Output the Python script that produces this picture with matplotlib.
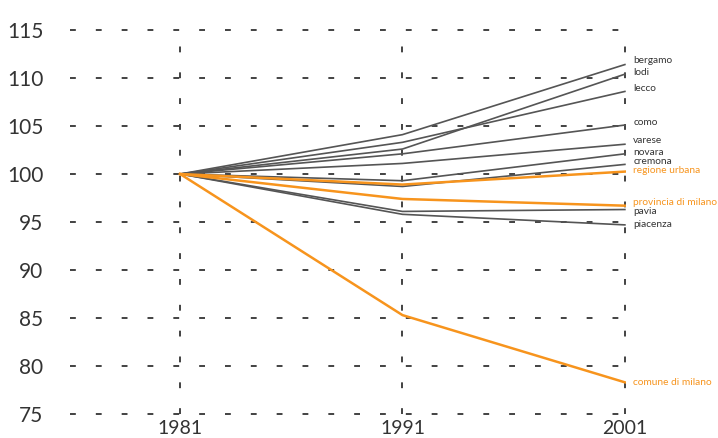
import matplotlib
matplotlib.use("Agg")
import matplotlib.pyplot as plt

years = [1981, 1991, 2001]
yticks = [75, 80, 85, 90, 95, 100, 105, 110, 115]

names = ["bergamo", "lodi", "lecco", "como", "varese", "novara", "cremona",
         "regione urbana", "provincia di milano", "pavia", "piacenza", "comune di milano"]
bergamo = [100, 104.1, 111.4]
lodi = [100, 102.6, 110.4]
lecco = [100, 103.3, 108.6]
como = [100, 102.1, 105.1]
varese = [100, 101.1, 103.1]
novara = [100, 99.3, 102.1]
cremona = [100, 98.7, 101.0]
regione_urbana = [100, 98.9, 100.25]
provincia_di_milano = [100, 97.4, 96.7]
pavia = [100, 96.1, 96.3]
piacenza = [100, 95.8, 94.7]
comune_di_milano = [100, 85.3, 78.3]
series = [bergamo, lodi, lecco, como, varese, novara, cremona,
          regione_urbana, provincia_di_milano, pavia, piacenza, comune_di_milano]
highlight = {"regione urbana", "provincia di milano", "comune di milano"}

# label vertical nudges in pixels (styling)
nudge_px = {"bergamo": 4, "lodi": 2, "lecco": 2.7, "como": 2.7, "varese": 3.3,
            "novara": 1.7, "cremona": 3.3, "regione urbana": 1, "provincia di milano": 3.3,
            "pavia": -1.7, "piacenza": 0.7, "comune di milano": -0.6}

GRAY = "#555555"
ORANGE = "#F7941D"
plt.rcParams['font.family'] = ['Lato', 'DejaVu Sans']

fig = plt.figure(figsize=(7.18, 4.38), dpi=100)
ax = fig.add_axes([70/718, 1-414/438, (626-70)/718, (414-30)/438])
ax.set_xlim(1976.05, 2001.05)
ax.set_ylim(75, 115)

for s in ax.spines.values():
    s.set_visible(False)

dash = (0, (3.5, 12))
for y in yticks:
    ax.plot([1976.05, 2001.05], [y, y], color="#222222", lw=1.2, linestyle=dash,
            zorder=1, clip_on=False)
for x in years:
    ax.plot([x, x], [75, 115], color="#222222", lw=1.2, linestyle=dash,
            zorder=1, clip_on=False)

order = [i for i, n in enumerate(names) if n not in highlight] + \
        [i for i, n in enumerate(names) if n in highlight]
for i in order:
    n = names[i]
    c = ORANGE if n in highlight else GRAY
    lw = 1.8 if n in highlight else 1.2
    ax.plot(years, series[i], color=c, lw=lw, zorder=3 if n in highlight else 2,
            solid_joinstyle="miter")
    ax.annotate(n, xy=(years[-1], series[i][-1]),
                xytext=(6, nudge_px[n] * 0.72), textcoords="offset points",
                va="center", ha="left", fontsize=7.3,
                color=ORANGE if n in highlight else "#333333",
                annotation_clip=False)

ax.set_xticks(years)
ax.set_xticklabels([str(y) for y in years])
ax.set_yticks(yticks)
ax.set_yticklabels([str(y) for y in yticks])
ax.tick_params(axis="both", length=0, colors="#333333")
ax.tick_params(axis="y", pad=19, labelsize=15)
ax.tick_params(axis="x", pad=4, labelsize=14)

fig.savefig("out.png", dpi=100)
